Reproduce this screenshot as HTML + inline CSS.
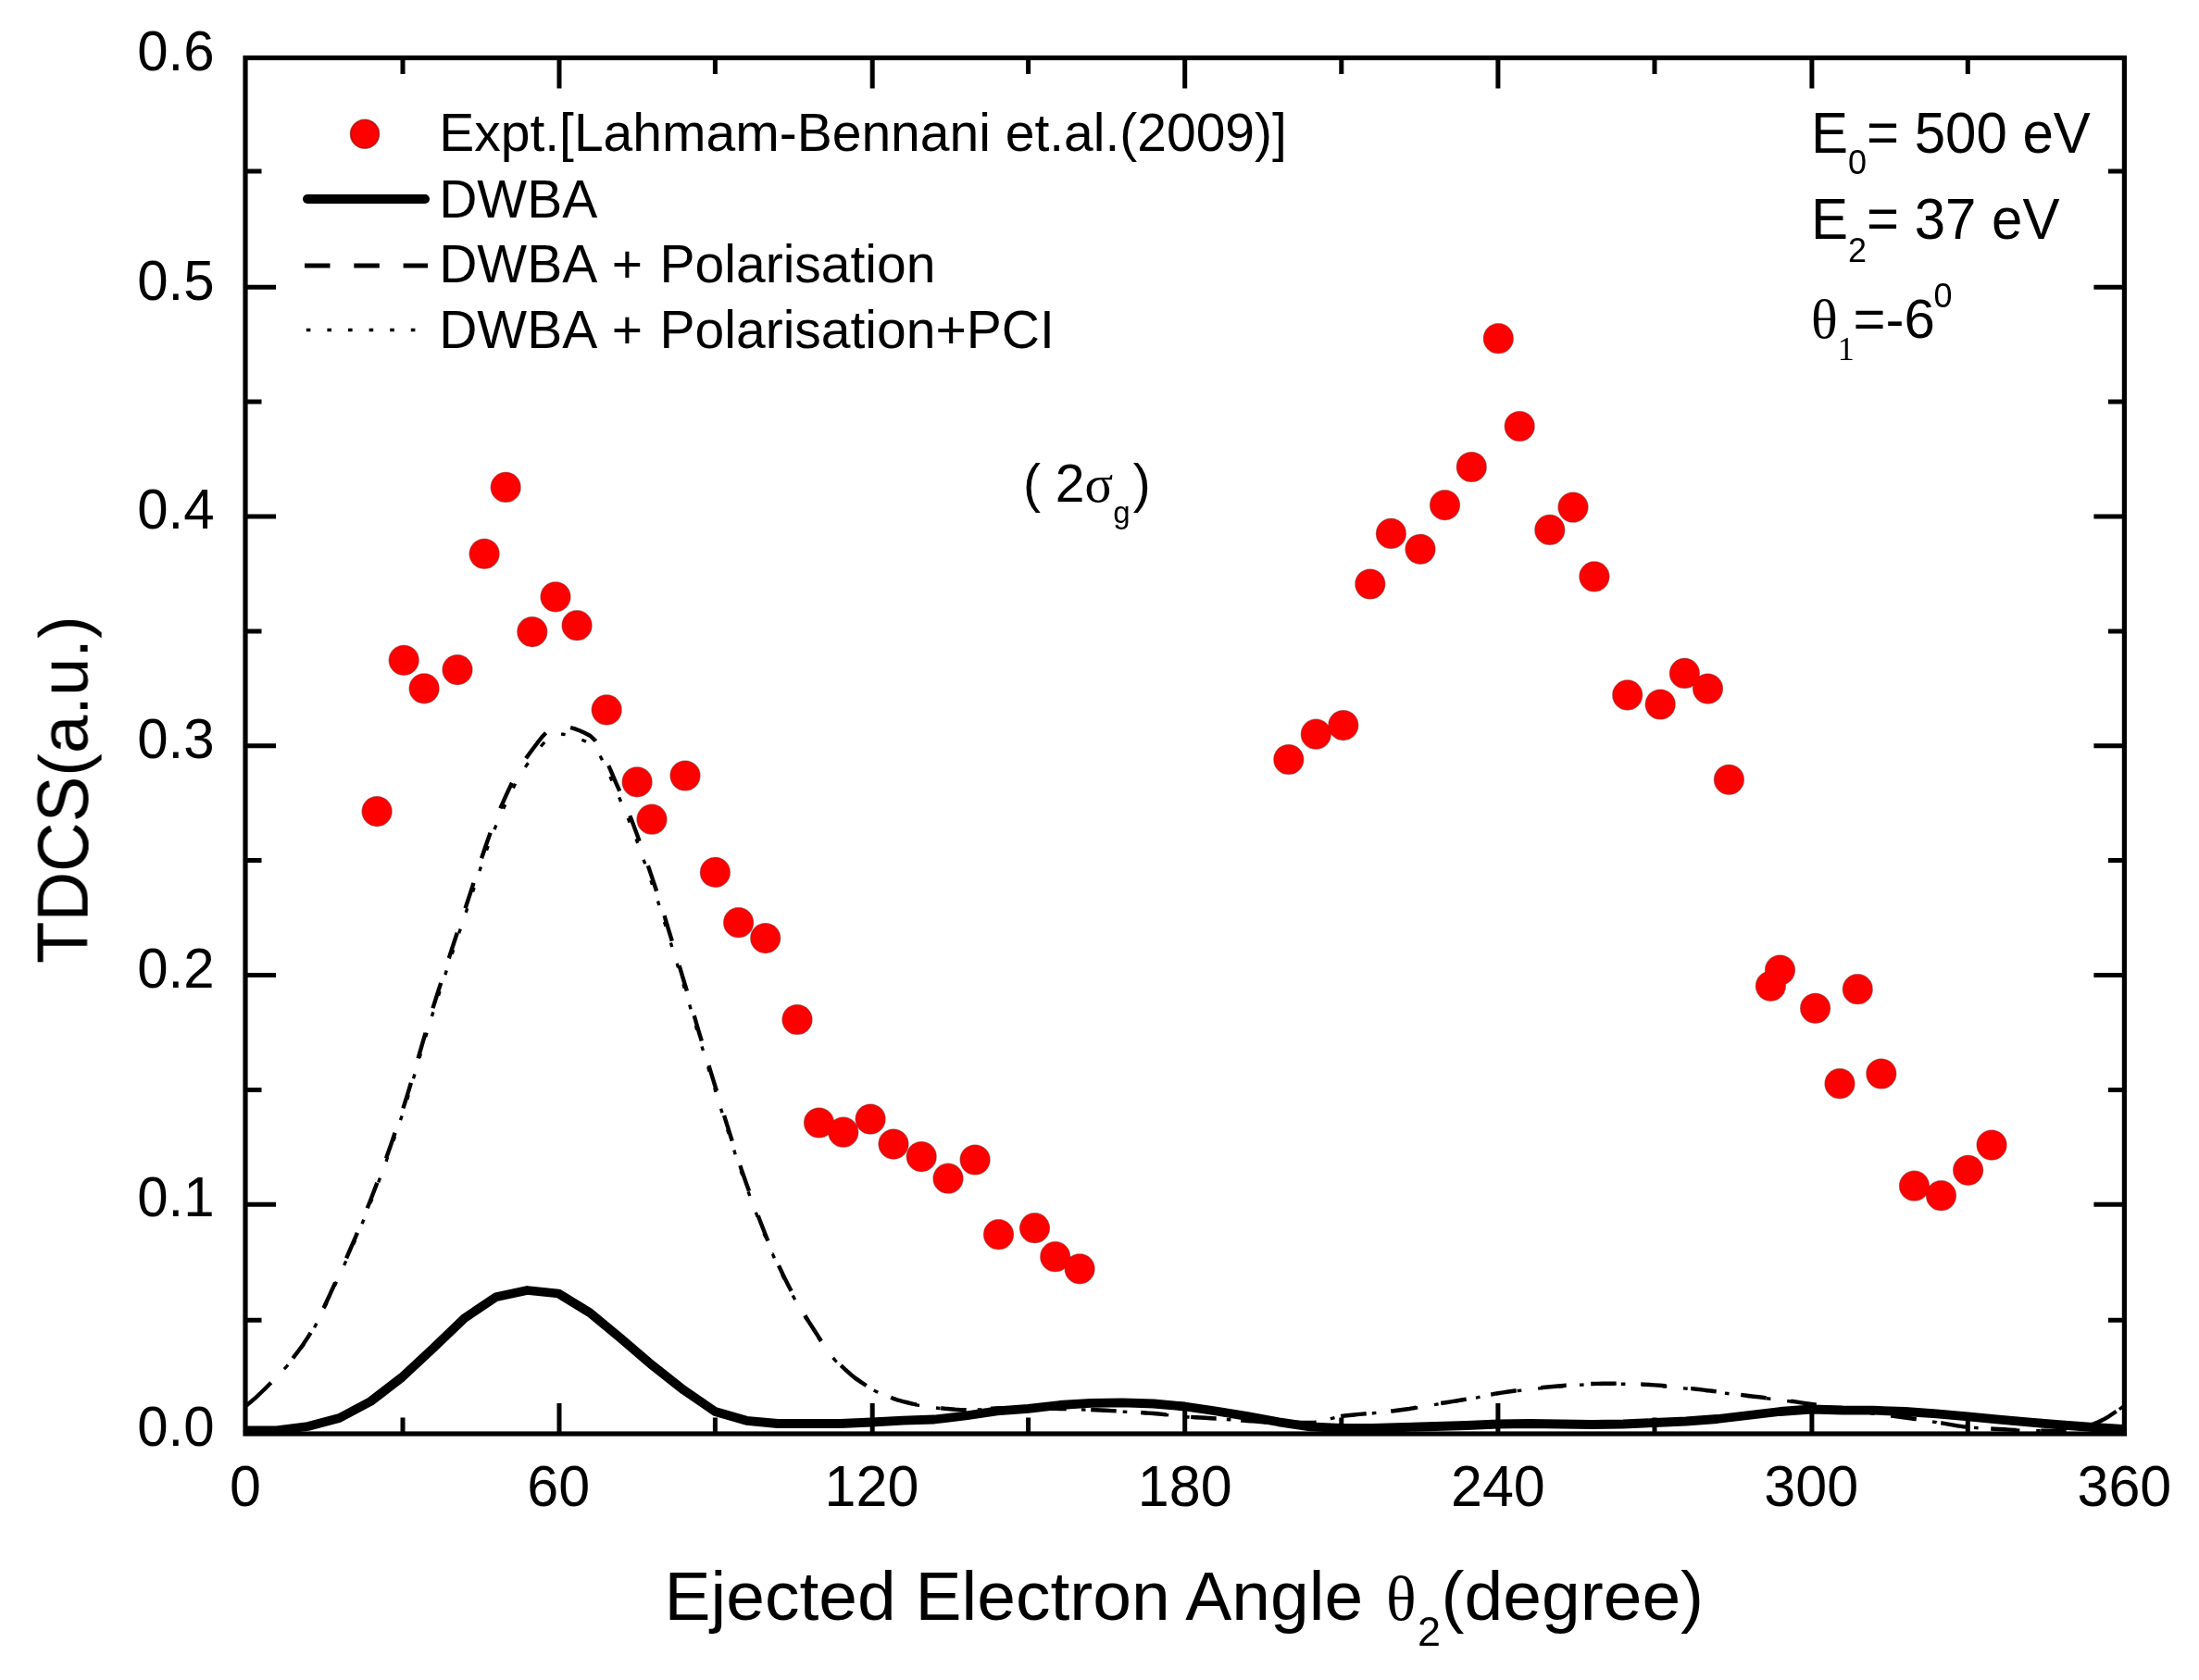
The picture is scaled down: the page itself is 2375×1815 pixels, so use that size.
<!DOCTYPE html>
<html lang="en"><head><meta charset="utf-8"><title>TDCS plot</title>
<style>html,body{margin:0;padding:0;background:#fff}svg{display:block}text{fill:#000}</style></head><body>
<svg width="2375" height="1815" viewBox="0 0 2375 1815">
<rect width="2375" height="1815" fill="#fff"/>
<filter id="soft" filterUnits="userSpaceOnUse" x="0" y="0" width="2375" height="1815"><feGaussianBlur stdDeviation="0.75"/></filter>
<g filter="url(#soft)">
<clipPath id="c"><rect x="265.0" y="62.5" width="2029.4" height="1488.5"/></clipPath>
<g clip-path="url(#c)" fill="none" stroke="#000" stroke-linejoin="round">
<path d="M265.3 1519.1L270.6 1514.7L276.3 1509.8L281.9 1504.5L287.5 1499.0L292.7 1493.8M316.3 1467.3L321.4 1460.7L327.0 1453.0L332.6 1444.6L335.5 1439.8M349.4 1413.3L349.6 1413.0L355.2 1401.0L360.8 1388.6L362.1 1385.8M374.1 1359.3L377.7 1351.0L383.4 1337.9L385.9 1331.8M396.7 1305.3L400.3 1296.3L405.9 1281.6L407.4 1277.8M417.1 1251.3L417.2 1250.9L422.8 1234.9L426.6 1223.8M435.4 1197.3L439.8 1183.5L443.9 1169.8M451.6 1143.3L456.7 1125.7L459.6 1115.8M467.5 1089.3L467.9 1087.8L473.6 1069.9L476.2 1061.8M484.7 1035.3L484.9 1034.9L490.5 1017.8L493.8 1007.8M502.6 981.3L507.4 966.6L511.5 953.8M520.1 927.3L524.3 914.7L529.6 899.8M540.4 873.3L541.2 871.4L546.9 858.6L552.5 846.6L552.9 845.8M568.1 819.3L569.4 817.4L575.0 809.8L580.7 802.2L586.3 795.2L589.6 791.8M616.1 786.0L620.1 787.1L625.8 789.3L631.4 791.8L637.1 794.7L642.7 799.8L643.3 800.7M657.3 827.2L659.6 832.3L665.2 845.7L669.2 854.7M680.3 881.2L682.2 886.0L687.8 901.0L690.6 908.7M699.9 935.2L704.7 949.4L709.1 962.7M717.5 989.2L721.6 1002.9L725.8 1016.7M733.6 1043.2L738.5 1059.5L741.9 1070.7M749.7 1097.2L749.8 1097.5L755.4 1116.8L757.8 1124.7M765.6 1151.2L766.7 1155.0L772.4 1173.5L774.0 1178.7M782.1 1205.2L783.6 1210.1L789.3 1228.1L790.7 1232.7M799.4 1259.2L800.5 1262.7L806.2 1279.0L809.0 1286.7M818.7 1313.2L823.1 1324.8L828.7 1339.0L829.4 1340.7M841.0 1367.2L845.6 1377.0L851.3 1388.4L854.6 1394.7M869.4 1421.2L873.8 1428.4L879.5 1437.3L885.1 1445.9L887.0 1448.7M908.2 1475.2L913.3 1480.0L918.9 1484.9L924.6 1489.4L930.2 1493.4L935.7 1497.0M962.2 1509.8L964.0 1510.6L969.7 1512.5L975.3 1514.1L980.9 1515.5L986.6 1516.8L989.7 1517.4M1016.2 1521.3L1020.4 1521.8L1026.0 1522.3L1031.7 1522.8L1037.3 1523.1L1042.9 1523.2L1043.7 1523.2M1070.2 1521.7L1071.1 1521.6L1076.8 1521.5L1082.4 1521.5L1088.0 1521.5L1093.7 1521.5L1097.7 1521.5M1124.2 1521.6L1127.5 1521.7L1133.1 1521.8L1138.8 1521.9L1144.4 1522.0L1150.0 1522.1L1151.7 1522.2M1178.2 1523.0L1178.2 1523.0L1183.9 1523.2L1189.5 1523.5L1195.1 1523.8L1200.8 1524.1L1205.7 1524.4M1232.2 1526.0L1234.6 1526.2L1240.2 1526.6L1245.9 1527.0L1251.5 1527.5L1257.2 1528.1L1259.7 1528.4M1286.2 1530.9L1291.0 1531.2L1296.6 1531.5L1302.2 1531.8L1307.9 1532.2L1313.5 1532.5L1313.7 1532.5M1340.2 1534.5L1341.7 1534.6L1347.3 1535.0L1353.0 1535.4L1358.6 1535.8L1364.3 1536.3L1367.7 1536.5M1394.2 1537.0L1398.1 1537.0L1403.7 1537.0L1409.4 1537.0L1415.0 1537.0L1420.6 1536.6L1421.7 1536.4M1448.2 1530.1L1448.8 1530.0L1454.5 1529.3L1460.1 1528.7L1465.7 1528.1L1471.4 1527.6L1475.7 1527.2M1502.2 1524.5L1505.2 1524.2L1510.8 1523.5L1516.5 1522.8L1522.1 1522.0L1527.7 1521.0L1529.7 1520.7M1556.2 1516.0L1561.6 1515.2L1567.2 1514.3L1572.8 1513.4L1578.5 1512.5L1583.7 1511.6M1610.2 1506.5L1612.3 1506.2L1617.9 1505.2L1623.6 1504.3L1629.2 1503.5L1634.8 1502.7L1637.7 1502.3M1664.2 1499.2L1668.7 1498.8L1674.3 1498.2L1679.9 1497.8L1685.6 1497.3L1691.2 1496.8L1691.7 1496.8M1718.2 1495.0L1719.4 1495.0L1725.0 1494.9L1730.7 1494.8L1736.3 1494.7L1742.0 1494.7L1745.7 1494.6M1772.2 1495.4L1775.8 1495.6L1781.4 1496.0L1787.0 1496.4L1792.7 1496.8L1798.3 1497.3L1799.7 1497.4M1826.2 1500.1L1826.5 1500.1L1832.1 1500.7L1837.8 1501.4L1843.4 1502.1L1849.1 1502.8L1853.7 1503.4M1880.2 1506.9L1882.9 1507.3L1888.5 1508.0L1894.2 1508.7L1899.8 1509.3L1905.4 1510.0L1907.7 1510.2M1934.2 1513.7L1939.3 1514.4L1944.9 1515.3L1950.5 1516.2L1956.2 1517.0L1961.7 1517.8M1988.2 1521.7L1990.0 1522.0L1995.6 1522.8L2001.3 1523.7L2006.9 1524.5L2012.5 1525.4L2015.7 1525.8M2042.2 1529.4L2046.4 1530.0L2052.0 1530.7L2057.6 1531.5L2063.3 1532.3L2068.9 1533.1L2069.7 1533.2M2096.2 1537.3L2097.1 1537.4L2102.7 1538.4L2108.4 1539.4L2114.0 1540.3L2119.6 1541.2L2123.7 1541.6M2150.2 1543.5L2153.5 1543.7L2159.1 1544.0L2164.7 1544.3L2170.4 1544.6L2176.0 1544.9L2177.7 1545.0M2204.2 1545.7L2204.2 1545.7L2209.8 1545.8L2215.5 1545.9L2221.1 1546.0L2226.8 1546.0L2231.7 1545.7M2258.2 1539.3L2260.6 1538.5L2266.2 1536.3L2271.9 1533.6L2277.5 1530.3L2283.1 1526.5L2285.7 1524.7" stroke-width="4.4"/>
<path d="M265.0 1519.6L267.8 1517.4M285.6 1501.5L287.5 1499.6L290.2 1496.9M306.9 1479.1L310.1 1475.6L311.0 1474.5M325.1 1456.7L327.0 1454.1L328.4 1452.1M339.5 1434.3L341.9 1429.7M350.9 1411.9L353.0 1407.3M361.3 1389.4L363.4 1384.8M371.6 1367.0L372.1 1365.9L373.7 1362.4M381.5 1344.6L383.4 1340.3L383.5 1340.0M391.0 1322.2L392.9 1317.6M400.1 1299.8L400.3 1299.2L401.9 1295.2M408.7 1277.3L410.4 1272.7M417.0 1254.9L417.2 1254.4L418.6 1250.3M424.9 1232.5L426.5 1227.9M432.5 1210.1L434.1 1205.5M439.8 1187.7L441.2 1183.1M446.5 1165.2L447.9 1160.6M453.1 1142.8L454.4 1138.2M459.7 1120.4L461.0 1115.8M466.4 1098.0L467.9 1093.4M473.5 1075.6L473.6 1075.4L475.0 1071.0M480.8 1053.1L482.3 1048.5M488.2 1030.7L489.7 1026.1M495.7 1008.3L496.1 1007.0L497.3 1003.7M503.2 985.9L504.7 981.3M510.6 963.5L512.1 958.9M517.9 941.0L518.7 938.6L519.4 936.4M525.5 918.6L527.2 914.0M534.0 896.2L535.6 892.2L535.9 891.6M543.6 873.8L545.7 869.2M554.2 851.4L556.6 846.8M567.3 828.9L569.4 825.8L570.5 824.3M584.1 806.5L586.3 803.9L588.2 801.9M606.0 793.1L608.9 793.3L610.6 793.6M628.4 799.2L631.4 800.5L633.0 801.3M648.1 816.6L648.3 816.9L650.5 821.2M658.9 839.0L659.6 840.6L660.9 843.6M668.6 861.4L670.6 866.0M678.2 883.9L680.1 888.5M687.0 906.3L687.8 908.4L688.7 910.9M695.1 928.7L696.7 933.3M702.9 951.1L704.5 955.7M710.5 973.5L711.9 978.1M717.5 996.0L719.0 1000.6M724.4 1018.4L725.8 1023.0M731.2 1040.8L732.5 1045.4M737.9 1063.2L738.5 1065.1L739.3 1067.8M744.7 1085.6L746.1 1090.2M751.4 1108.1L752.7 1112.7M758.0 1130.5L759.4 1135.1M764.7 1152.9L766.1 1157.5M771.6 1175.3L772.4 1177.8L773.0 1179.9M778.6 1197.7L780.0 1202.3M785.6 1220.2L787.0 1224.8M792.8 1242.6L794.2 1247.2M800.2 1265.0L800.5 1266.0L801.8 1269.6M808.1 1287.4L809.8 1292.0M816.4 1309.8L817.4 1312.7L818.1 1314.4M825.0 1332.3L826.9 1336.9M834.3 1354.7L834.4 1354.7L836.4 1359.3M844.7 1377.1L845.6 1379.0L847.0 1381.7M856.2 1399.5L856.9 1400.9L858.7 1404.1M868.9 1421.9L871.8 1426.5M883.3 1444.4L885.1 1447.1L886.4 1449.0M899.7 1466.8L902.0 1469.6L903.7 1471.4M921.3 1487.5L924.6 1490.1L925.9 1491.0M943.7 1502.0L947.1 1503.7L948.3 1504.3M966.1 1511.7L969.7 1512.9L970.7 1513.2M988.5 1517.5L992.2 1518.3L993.1 1518.4M1011.0 1521.0L1014.8 1521.5L1015.6 1521.5M1033.4 1523.2L1037.3 1523.4L1038.0 1523.4M1055.8 1522.9L1059.8 1522.7L1060.4 1522.6M1078.2 1521.8L1082.4 1521.8L1082.8 1521.8M1100.6 1521.8L1104.9 1521.8L1105.2 1521.8M1123.1 1521.9L1127.5 1522.0L1127.7 1522.0M1145.5 1522.3L1150.0 1522.4L1150.1 1522.4M1167.9 1522.9L1172.5 1523.1M1190.3 1523.8L1194.9 1524.1M1212.7 1525.1L1217.3 1525.4M1235.2 1526.5L1239.8 1526.8M1257.6 1528.4L1262.2 1528.9M1280.0 1530.7L1284.6 1531.0M1302.4 1532.0L1307.0 1532.3M1324.8 1533.5L1329.4 1533.8M1347.3 1535.2L1347.3 1535.2L1351.9 1535.5M1369.7 1536.8L1369.9 1536.8L1374.3 1537.0M1392.1 1537.1L1392.4 1537.1L1396.7 1537.1M1414.5 1537.1L1415.0 1537.1L1419.1 1536.8M1436.9 1532.9L1437.5 1532.7L1441.5 1531.7M1459.4 1529.0L1460.1 1528.9L1464.0 1528.5M1481.8 1526.8L1482.6 1526.8L1486.4 1526.4M1504.2 1524.6L1505.2 1524.4L1508.8 1524.0M1526.6 1521.5L1527.7 1521.4L1531.2 1520.8M1549.0 1517.6L1550.3 1517.4L1553.6 1516.8M1571.5 1514.0L1572.8 1513.8L1576.1 1513.3M1593.9 1510.1L1595.4 1509.9L1598.5 1509.2M1616.3 1506.0L1617.9 1505.7L1620.9 1505.2M1638.7 1502.7L1640.5 1502.4L1643.3 1502.1M1661.1 1500.1L1663.0 1499.9L1665.7 1499.6M1683.6 1498.1L1685.6 1497.9L1688.2 1497.7M1706.0 1496.3L1708.1 1496.1L1710.6 1496.0M1728.4 1495.5L1730.7 1495.4L1733.0 1495.4M1750.8 1495.2L1753.2 1495.2L1755.4 1495.3M1773.2 1496.0L1775.8 1496.2L1777.8 1496.4M1795.7 1497.7L1798.3 1497.9L1800.3 1498.1M1818.1 1499.8L1820.9 1500.1L1822.7 1500.3M1840.5 1502.3L1843.4 1502.6L1845.1 1502.8M1862.9 1505.1L1866.0 1505.5L1867.5 1505.7M1885.3 1508.1L1888.5 1508.5L1889.9 1508.6M1907.8 1510.7L1911.1 1511.1L1912.4 1511.2M1930.2 1513.5L1933.6 1514.0L1934.8 1514.2M1952.6 1516.8L1956.2 1517.4L1957.2 1517.5M1975.0 1520.1L1978.7 1520.7L1979.6 1520.8M1997.4 1523.4L2001.3 1524.0L2002.0 1524.1M2019.9 1526.7L2023.8 1527.3L2024.5 1527.3M2042.3 1529.7L2046.4 1530.2L2046.9 1530.3M2064.7 1532.7L2068.9 1533.3L2069.3 1533.4M2087.1 1536.0L2091.5 1536.6L2091.7 1536.7M2109.5 1539.7L2114.0 1540.4L2114.1 1540.5M2132.0 1542.4L2136.6 1542.8L2136.6 1542.8M2154.4 1543.8L2159.0 1544.1M2176.8 1545.0L2181.4 1545.2M2199.2 1545.7L2203.8 1545.8M2221.6 1546.0L2226.2 1546.0M2244.1 1543.6L2248.7 1542.3M2266.5 1536.4L2271.1 1534.1M2288.9 1522.6L2293.5 1519.0" stroke-width="3.4"/>
<polyline points="265.0,1545.5 298.8,1545.3 332.6,1541.0 366.5,1532.0 400.3,1514.0 434.1,1488.0 467.9,1456.5 501.8,1424.0 535.6,1401.3 569.4,1394.0 603.2,1397.5 637.1,1418.2 670.9,1446.3 704.7,1475.2 738.5,1501.8 772.4,1525.0 806.2,1534.8 840.0,1538.0 873.8,1538.0 907.6,1538.0 941.5,1536.5 975.3,1534.6 1009.1,1533.5 1042.9,1529.5 1076.8,1524.3 1110.6,1521.8 1144.4,1518.0 1178.2,1515.8 1212.1,1515.3 1245.9,1516.5 1279.7,1519.5 1313.5,1524.5 1347.3,1530.2 1381.2,1536.3 1415.0,1541.4 1448.8,1543.0 1482.6,1543.0 1516.5,1542.0 1550.3,1541.0 1584.1,1540.0 1617.9,1538.5 1651.8,1538.0 1685.6,1538.5 1719.4,1539.0 1753.2,1538.5 1787.0,1537.0 1820.9,1535.5 1854.7,1533.0 1888.5,1529.0 1922.3,1525.0 1956.2,1522.5 1990.0,1523.5 2023.8,1523.7 2057.6,1525.0 2091.5,1527.3 2125.3,1530.3 2159.1,1533.7 2192.9,1536.7 2226.8,1539.5 2260.6,1542.0 2294.4,1544.0" stroke-width="9.8" stroke-linecap="round"/>
</g>
<rect x="265.0" y="62.5" width="2029.4" height="1486.5" fill="none" stroke="#000" stroke-width="5.2"/>
<path d="M435.0 1549.0v-17.5M435.0 62.5v17.5M604.0 1549.0v-33.0M604.0 62.5v33.0M772.4 1549.0v-17.5M772.4 62.5v17.5M942.2 1549.0v-33.0M942.2 62.5v33.0M1110.6 1549.0v-17.5M1110.6 62.5v17.5M1279.7 1549.0v-33.0M1279.7 62.5v33.0M1448.8 1549.0v-17.5M1448.8 62.5v17.5M1617.9 1549.0v-33.0M1617.9 62.5v33.0M1787.0 1549.0v-17.5M1787.0 62.5v17.5M1956.9 1549.0v-33.0M1956.9 62.5v33.0M2125.3 1549.0v-17.5M2125.3 62.5v17.5M265.0 1426.3h17.5M2294.4 1426.3h-17.5M265.0 1301.2h33.0M2294.4 1301.2h-33.0M265.0 1177.4h17.5M2294.4 1177.4h-17.5M265.0 1053.5h33.0M2294.4 1053.5h-33.0M265.0 929.6h17.5M2294.4 929.6h-17.5M265.0 805.7h33.0M2294.4 805.7h-33.0M265.0 681.9h17.5M2294.4 681.9h-17.5M265.0 558.0h33.0M2294.4 558.0h-33.0M265.0 434.1h17.5M2294.4 434.1h-17.5M265.0 310.2h33.0M2294.4 310.2h-33.0M265.0 185.0h17.5M2294.4 185.0h-17.5" stroke="#000" stroke-width="5" fill="none"/>
<g font-family='"Liberation Sans", sans-serif' font-size="61" text-anchor="middle">
<text transform="translate(265.0 1627.3) scale(1 1.028)">0</text>
<text transform="translate(603.2 1627.3) scale(1 1.028)">60</text>
<text transform="translate(941.5 1627.3) scale(1 1.028)">120</text>
<text transform="translate(1279.7 1627.3) scale(1 1.028)">180</text>
<text transform="translate(1617.9 1627.3) scale(1 1.028)">240</text>
<text transform="translate(1956.2 1627.3) scale(1 1.028)">300</text>
<text transform="translate(2294.4 1627.3) scale(1 1.028)">360</text>
</g>
<g font-family='"Liberation Sans", sans-serif' font-size="60" text-anchor="end">
<text transform="translate(231.6 1562.3) scale(1 1.028)">0.0</text>
<text transform="translate(231.6 1314.5) scale(1 1.028)">0.1</text>
<text transform="translate(231.6 1066.8) scale(1 1.028)">0.2</text>
<text transform="translate(231.6 819.0) scale(1 1.028)">0.3</text>
<text transform="translate(231.6 571.3) scale(1 1.028)">0.4</text>
<text transform="translate(231.6 323.6) scale(1 1.028)">0.5</text>
<text transform="translate(231.6 75.8) scale(1 1.028)">0.6</text>
</g>
<text font-family='"Liberation Sans", sans-serif' font-size="75" x="717.5" y="1750.3">Ejected Electron Angle <tspan font-family='"Liberation Serif", serif' font-size="68" dx="4">θ</tspan><tspan font-size="45" dy="28" dx="1.5">2</tspan><tspan dy="-28" dx="0.5">(degree)</tspan></text>
<g font-family='"Liberation Sans", sans-serif' font-size="74.3" transform="translate(94.6 1041) rotate(-90)"><text transform="scale(1 1.04)">TDCS</text><text x="202.3">(a.u.)</text></g>
<circle cx="394" cy="144.8" r="15.5" fill="#f00" stroke="#800" stroke-width="1.6" stroke-opacity="0.6"/>
<line x1="332" y1="215" x2="459" y2="215" stroke="#000" stroke-width="10" stroke-linecap="round"/>
<line x1="329" y1="287" x2="462" y2="287" stroke="#000" stroke-width="5" stroke-dasharray="27.5 25.8"/>
<line x1="330.8" y1="356.5" x2="452" y2="356.5" stroke="#000" stroke-width="3.3" stroke-dasharray="4.6 18"/>
<g font-family='"Liberation Sans", sans-serif' font-size="57">
<text x="474.2" y="163.3">Expt.[Lahmam-Bennani et.al.(2009)]</text>
<text x="474.2" y="234.5">DWBA</text>
<text x="474.2" y="304.6" word-spacing="2.8">DWBA + Polarisation</text>
<text x="474.2" y="375.6" word-spacing="2.8">DWBA + Polarisation+PCI</text>
</g>
<g font-family='"Liberation Sans", sans-serif' font-size="60">
<text transform="translate(1956 164.9) scale(1 1.035)">E<tspan font-size="36" dy="22.6">0</tspan><tspan dy="-22.6">= 500 eV</tspan></text>
<text transform="translate(1956 257.7) scale(1 1.035)">E<tspan font-size="36" dy="24">2</tspan><tspan dy="-24">= 37 eV</tspan></text>
<text x="1956" y="364.6"><tspan font-family='"Liberation Serif", serif'>θ</tspan><tspan font-family='"Liberation Serif", serif' font-size="36" dy="24.5">1</tspan><tspan dy="-24.5" dx="-1.2">=-6</tspan><tspan font-size="36" dy="-32.5" dx="-1.5">0</tspan></text>
</g>
<text font-family='"Liberation Sans", sans-serif' font-size="57" x="1105" y="541.9">( 2<tspan font-family='"Liberation Serif", serif' font-size="57">σ</tspan><tspan font-size="33" dy="23">g</tspan><tspan dy="-23" dx="3">)</tspan></text>
<g fill="#f00" stroke="#800" stroke-width="1.6" stroke-opacity="0.6">
<circle cx="407.1" cy="876.6" r="15.8"/>
<circle cx="436.2" cy="713.3" r="15.8"/>
<circle cx="458.1" cy="743.8" r="15.8"/>
<circle cx="494.0" cy="723.6" r="15.8"/>
<circle cx="523.1" cy="598.3" r="15.8"/>
<circle cx="546.2" cy="526.4" r="15.8"/>
<circle cx="574.8" cy="682.6" r="15.8"/>
<circle cx="600.0" cy="644.8" r="15.8"/>
<circle cx="623.1" cy="675.7" r="15.8"/>
<circle cx="655.2" cy="766.9" r="15.8"/>
<circle cx="688.1" cy="844.8" r="15.8"/>
<circle cx="704.0" cy="885.2" r="15.8"/>
<circle cx="740.0" cy="838.0" r="15.8"/>
<circle cx="772.4" cy="942.4" r="15.8"/>
<circle cx="797.6" cy="996.7" r="15.8"/>
<circle cx="826.7" cy="1013.6" r="15.8"/>
<circle cx="861.0" cy="1101.5" r="15.8"/>
<circle cx="884.5" cy="1213.0" r="15.8"/>
<circle cx="910.8" cy="1223.2" r="15.8"/>
<circle cx="940.1" cy="1209.1" r="15.8"/>
<circle cx="965.0" cy="1236.1" r="15.8"/>
<circle cx="995.2" cy="1249.6" r="15.8"/>
<circle cx="1024.0" cy="1273.2" r="15.8"/>
<circle cx="1053.1" cy="1253.0" r="15.8"/>
<circle cx="1078.5" cy="1333.7" r="15.8"/>
<circle cx="1117.5" cy="1326.7" r="15.8"/>
<circle cx="1139.7" cy="1357.7" r="15.8"/>
<circle cx="1166.1" cy="1370.8" r="15.8"/>
<circle cx="1391.8" cy="820.5" r="15.8"/>
<circle cx="1421.3" cy="793.2" r="15.8"/>
<circle cx="1450.8" cy="783.6" r="15.8"/>
<circle cx="1479.8" cy="631.0" r="15.8"/>
<circle cx="1502.4" cy="576.4" r="15.8"/>
<circle cx="1534.0" cy="593.3" r="15.8"/>
<circle cx="1560.5" cy="545.7" r="15.8"/>
<circle cx="1589.3" cy="504.5" r="15.8"/>
<circle cx="1618.3" cy="365.7" r="15.8"/>
<circle cx="1641.2" cy="460.5" r="15.8"/>
<circle cx="1673.8" cy="572.4" r="15.8"/>
<circle cx="1699.0" cy="548.1" r="15.8"/>
<circle cx="1721.9" cy="622.9" r="15.8"/>
<circle cx="1757.7" cy="750.9" r="15.8"/>
<circle cx="1793.2" cy="761.0" r="15.8"/>
<circle cx="1819.4" cy="727.4" r="15.8"/>
<circle cx="1844.5" cy="744.1" r="15.8"/>
<circle cx="1867.4" cy="842.3" r="15.8"/>
<circle cx="1912.4" cy="1065.3" r="15.8"/>
<circle cx="1922.5" cy="1048.1" r="15.8"/>
<circle cx="1960.6" cy="1089.3" r="15.8"/>
<circle cx="1987.0" cy="1170.7" r="15.8"/>
<circle cx="2006.3" cy="1068.7" r="15.8"/>
<circle cx="2031.8" cy="1160.0" r="15.8"/>
<circle cx="2067.5" cy="1281.2" r="15.8"/>
<circle cx="2096.5" cy="1291.7" r="15.8"/>
<circle cx="2125.6" cy="1264.3" r="15.8"/>
<circle cx="2151.1" cy="1237.1" r="15.8"/>
</g>
<g fill="#f00">
<circle cx="407.1" cy="876.6" r="15.6"/>
<circle cx="436.2" cy="713.3" r="15.6"/>
<circle cx="458.1" cy="743.8" r="15.6"/>
<circle cx="494.0" cy="723.6" r="15.6"/>
<circle cx="523.1" cy="598.3" r="15.6"/>
<circle cx="546.2" cy="526.4" r="15.6"/>
<circle cx="574.8" cy="682.6" r="15.6"/>
<circle cx="600.0" cy="644.8" r="15.6"/>
<circle cx="623.1" cy="675.7" r="15.6"/>
<circle cx="655.2" cy="766.9" r="15.6"/>
<circle cx="688.1" cy="844.8" r="15.6"/>
<circle cx="704.0" cy="885.2" r="15.6"/>
<circle cx="740.0" cy="838.0" r="15.6"/>
<circle cx="772.4" cy="942.4" r="15.6"/>
<circle cx="797.6" cy="996.7" r="15.6"/>
<circle cx="826.7" cy="1013.6" r="15.6"/>
<circle cx="861.0" cy="1101.5" r="15.6"/>
<circle cx="884.5" cy="1213.0" r="15.6"/>
<circle cx="910.8" cy="1223.2" r="15.6"/>
<circle cx="940.1" cy="1209.1" r="15.6"/>
<circle cx="965.0" cy="1236.1" r="15.6"/>
<circle cx="995.2" cy="1249.6" r="15.6"/>
<circle cx="1024.0" cy="1273.2" r="15.6"/>
<circle cx="1053.1" cy="1253.0" r="15.6"/>
<circle cx="1078.5" cy="1333.7" r="15.6"/>
<circle cx="1117.5" cy="1326.7" r="15.6"/>
<circle cx="1139.7" cy="1357.7" r="15.6"/>
<circle cx="1166.1" cy="1370.8" r="15.6"/>
<circle cx="1391.8" cy="820.5" r="15.6"/>
<circle cx="1421.3" cy="793.2" r="15.6"/>
<circle cx="1450.8" cy="783.6" r="15.6"/>
<circle cx="1479.8" cy="631.0" r="15.6"/>
<circle cx="1502.4" cy="576.4" r="15.6"/>
<circle cx="1534.0" cy="593.3" r="15.6"/>
<circle cx="1560.5" cy="545.7" r="15.6"/>
<circle cx="1589.3" cy="504.5" r="15.6"/>
<circle cx="1618.3" cy="365.7" r="15.6"/>
<circle cx="1641.2" cy="460.5" r="15.6"/>
<circle cx="1673.8" cy="572.4" r="15.6"/>
<circle cx="1699.0" cy="548.1" r="15.6"/>
<circle cx="1721.9" cy="622.9" r="15.6"/>
<circle cx="1757.7" cy="750.9" r="15.6"/>
<circle cx="1793.2" cy="761.0" r="15.6"/>
<circle cx="1819.4" cy="727.4" r="15.6"/>
<circle cx="1844.5" cy="744.1" r="15.6"/>
<circle cx="1867.4" cy="842.3" r="15.6"/>
<circle cx="1912.4" cy="1065.3" r="15.6"/>
<circle cx="1922.5" cy="1048.1" r="15.6"/>
<circle cx="1960.6" cy="1089.3" r="15.6"/>
<circle cx="1987.0" cy="1170.7" r="15.6"/>
<circle cx="2006.3" cy="1068.7" r="15.6"/>
<circle cx="2031.8" cy="1160.0" r="15.6"/>
<circle cx="2067.5" cy="1281.2" r="15.6"/>
<circle cx="2096.5" cy="1291.7" r="15.6"/>
<circle cx="2125.6" cy="1264.3" r="15.6"/>
<circle cx="2151.1" cy="1237.1" r="15.6"/>
</g>
</g>
</svg></body></html>
